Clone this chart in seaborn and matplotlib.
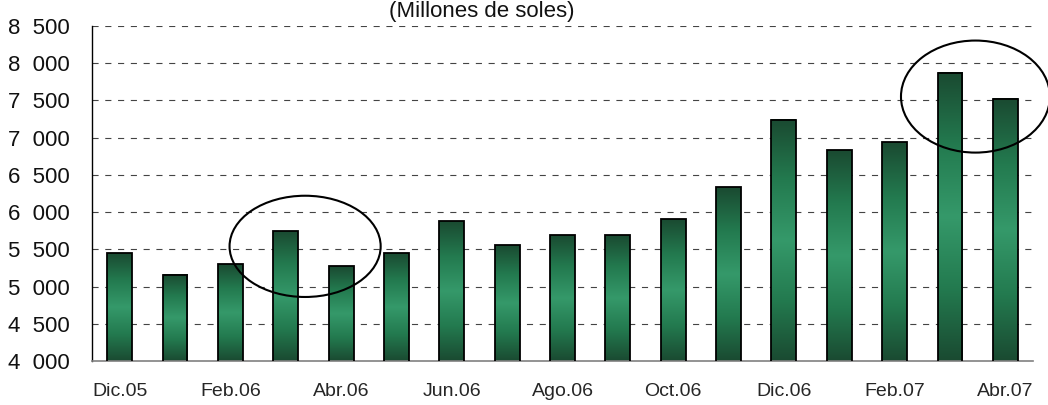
import numpy as np
import pandas as pd
import matplotlib
matplotlib.use("Agg")
import matplotlib.pyplot as plt
import seaborn as sns
from matplotlib.patches import Ellipse
from matplotlib.colors import LinearSegmentedColormap
from matplotlib.ticker import FuncFormatter

months = ["Dic.05", "Ene.06", "Feb.06", "Mar.06", "Abr.06", "May.06", "Jun.06",
          "Jul.06", "Ago.06", "Set.06", "Oct.06", "Nov.06", "Dic.06", "Ene.07",
          "Feb.07", "Mar.07", "Abr.07"]
values = [5450, 5160, 5300, 5740, 5270, 5450, 5880, 5555, 5690, 5690, 5905,
          6335, 7240, 6830, 6940, 7870, 7525]
yticks = [4000, 4500, 5000, 5500, 6000, 6500, 7000, 7500, 8000, 8500]
title_text = "(Millones de soles)"

sns.set_style("white")
plt.rcParams['font.family'] = ['Liberation Sans', 'DejaVu Sans']

fig = plt.figure(figsize=(10.48, 4.05), dpi=100)
ax = fig.add_axes([92/1048, 1-361/405, (1033-92)/1048, (361-26)/405])

df = pd.DataFrame({"mes": months, "valor": values})
sns.barplot(data=df, x="mes", y="valor", ax=ax, width=0.45, color="#2e8b5a",
            edgecolor="black", linewidth=1.3, zorder=3)

ymin, ymax = 4000, 8500
cmap = LinearSegmentedColormap.from_list(
    "g", ["#1a4a31", "#237a4f", "#35996a", "#237a4f", "#1a4a31"])
grad = np.linspace(0, 1, 256).reshape(-1, 1)
for p in list(ax.patches):
    x, w, h = p.get_x(), p.get_width(), p.get_height()
    ax.imshow(grad, extent=[x, x + w, ymin, h], aspect='auto', cmap=cmap,
              origin='lower', zorder=2.5, interpolation='bicubic')
    p.set_facecolor('none')

ax.set_xlim(-0.5, len(months) - 0.5)
ax.set_ylim(ymin, ymax)

ax.set_yticks(yticks)
ax.yaxis.set_major_formatter(FuncFormatter(lambda v, _: f"{v:,.0f}".replace(",", "  ")))
ax.tick_params(axis='y', which='major', length=8, width=1, color='black',
               direction='out', pad=8, labelsize=16)
for t in ax.get_yticklabels():
    t.set_color("#111111")

even = list(range(0, len(months), 2))
ax.set_xticks(even)
ax.set_xticklabels([months[i] for i in even], fontsize=14)
ax.set_xticks(np.arange(-0.5, len(months), 2), minor=True)
ax.tick_params(axis='x', which='major', length=0, pad=16)
ax.tick_params(axis='x', which='minor', length=8, width=1, color='black', direction='out')
ax.set_xlabel("")
ax.set_ylabel("")

for v in yticks[1:]:
    ax.axhline(v, color="#444444", lw=0.8, ls=(0, (5.5, 6)), zorder=1)

for s in ["top", "right"]:
    ax.spines[s].set_visible(False)
ax.spines["left"].set_color("black")
ax.spines["left"].set_linewidth(1)
ax.spines["bottom"].set_color("#808080")
ax.spines["bottom"].set_linewidth(1.2)

ax.add_patch(Ellipse((3.35, 5540), 2.73, 1360, fill=False, edgecolor='black',
                     lw=1.5, zorder=5, clip_on=False))
ax.add_patch(Ellipse((15.46, 7552), 2.69, 1505, fill=False, edgecolor='black',
                     lw=1.5, zorder=5, clip_on=False))

fig.text(482/1048, 1 - 17.5/405, title_text, ha='center', va='baseline', fontsize=16,
         color="#111111")

fig.savefig("out.png", dpi=100)
